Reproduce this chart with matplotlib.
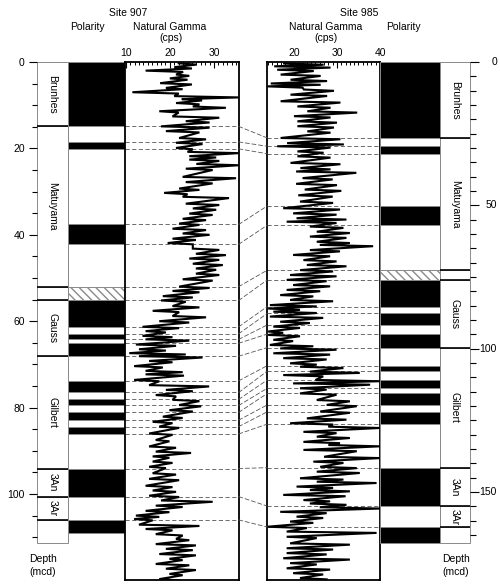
import matplotlib
matplotlib.use("Agg")
import matplotlib.pyplot as plt
import matplotlib.transforms as mtransforms
from matplotlib.patches import Rectangle, ConnectionPatch
import numpy as np

plt.rcParams['font.family'] = ['Liberation Sans', 'DejaVu Sans']
plt.rcParams['font.size'] = 7.5

# ---------------- data ----------------
# Site 907 natural gamma (depth mcd, low / high excursions, cps)
site907_depth = [0.3, 1.2, 2.0, 2.9, 3.8, 4.9, 6.0, 7.0, 7.9, 8.6, 9.5, 10.3, 11.4, 12.6, 13.7,
                 14.9, 16.0, 17.6, 18.7, 19.9, 20.8, 21.8, 22.6, 23.6, 24.7, 26.6, 27.8, 29.3,
                 30.3, 31.2, 32.8, 33.9, 35.1, 36.3, 37.4, 38.6, 39.7, 40.9, 41.9, 43.2, 44.4,
                 45.5, 46.7, 47.8, 49.0, 50.3, 52.0, 53.0, 54.2, 55.2, 56.5, 57.6, 58.8, 60.0,
                 61.3, 62.3, 63.4, 64.2, 65.4, 66.5, 67.4, 68.1, 69.2, 70.4, 71.5, 72.3, 73.6,
                 74.8, 75.9, 77.1, 78.2, 79.4, 80.6, 82.1, 83.3, 84.4, 86.0, 87.5, 89.0, 90.2,
                 91.3, 92.5, 93.7, 95.2, 96.5, 98.1, 99.2, 100.4, 101.5, 102.7, 103.9, 105.0,
                 105.8, 107.1, 108.1, 109.3, 110.4, 111.6, 112.7, 113.9, 115.0, 116.2, 117.3,
                 118.5, 119.7]
site907_low = [22.0, 21.0, 14.5, 21.4, 20.0, 17.8, 19.1, 11.5, 21.0, 22.7, 21.4, 25.2, 17.6, 20.6, 23.6,
               18.0, 19.1, 22.1, 21.4, 21.4, 24.0, 24.4, 24.4, 26.0, 23.6, 22.9, 23.6, 22.1,
               18.7, 22.9, 23.6, 25.2, 24.4, 22.9, 22.1, 20.6, 22.9, 20.6, 19.5, 25.2, 25.9,
               24.4, 25.2, 25.9, 25.9, 22.9, 22.1, 20.6, 18.4, 18.0, 20.6, 16.1, 20.6, 17.6,
               13.8, 14.5, 13.8, 14.5, 12.3, 13.0, 10.8, 13.0, 15.3, 11.9, 14.5, 14.5, 11.9,
               15.3, 19.1, 16.8, 20.6, 22.1, 19.9, 18.4, 16.1, 17.6, 15.3, 16.8, 15.3, 16.8,
               16.1, 16.1, 15.3, 16.1, 15.3, 14.5, 16.1, 15.3, 18.0, 16.8, 14.5, 12.3,
               11.9, 13.0, 14.5, 16.8, 21.4, 16.8, 19.1, 17.6, 19.9, 16.8, 19.1,
               19.9, 17.6]
site907_high = [26.0, 25.0, 23.0, 24.4, 24.0, 25.0, 22.9, 22.0, 35.6, 27.3, 26.7, 32.7, 22.0, 31.2, 29.0,
                29.0, 26.7, 28.2, 27.4, 25.2, 35.6, 30.5, 31.2, 35.6, 29.7, 35.0, 29.7, 26.7,
                24.0, 33.4, 31.2, 30.5, 29.7, 28.2, 26.7, 28.2, 29.0, 25.9, 25.2, 31.2, 32.7,
                31.2, 32.0, 30.5, 31.2, 29.7, 29.0, 26.7, 25.2, 23.6, 26.7, 22.1, 28.2, 24.4,
                22.1, 19.1, 20.6, 24.4, 21.4, 19.1, 23.6, 27.4, 20.6, 18.4, 22.9, 23.2, 17.6,
                28.9, 25.2, 21.4, 26.7, 27.1, 25.2, 22.9, 20.6, 22.1, 20.6, 19.9, 21.4, 24.8,
                19.9, 20.6, 19.1, 21.4, 22.1, 20.6, 21.4, 22.1, 29.7, 22.9, 19.9, 17.6,
                16.1, 26.7, 20.6, 22.9, 24.4, 25.9, 25.2, 25.9, 22.9, 24.4, 25.9,
                22.9, 22.1]

# Site 985 natural gamma
site985_depth = [0.5, 1.5, 2.7, 4.4, 6.2, 7.5, 8.5, 9.6, 11.4, 13.7, 15.5, 17.2, 18.9, 20.7, 22.4,
                 24.2, 26.5, 28.3, 29.4, 31.2, 32.9, 35.2, 37.0, 38.2, 40.5, 42.5, 44.5, 46.5,
                 48.7, 51.0, 52.8, 54.5, 55.7, 57.4, 59.2, 60.9, 62.7, 63.8, 65.6, 67.3, 69.1,
                 70.8, 72.6, 74.3, 76.0, 77.8, 79.5, 81.3, 83.0, 84.8, 86.0, 87.1, 88.8, 90.6,
                 92.3, 94.0, 95.2, 96.9, 98.7, 99.9, 101.6, 103.3, 105.1, 106.3, 108.0, 109.2,
                 110.9, 112.1, 113.8, 115.6, 117.9, 119.6, 121.9, 124.3, 126.0, 127.2, 129.0,
                 130.7, 132.5, 133.6, 135.3, 137.7, 139.4, 141.2, 142.9, 145.2, 146.4, 148.1,
                 149.3, 151.0, 152.8, 154.0, 155.3, 156.9, 158.6, 160.3, 162.1, 163.8, 165.6,
                 167.9, 169.6, 171.3, 173.1, 174.8, 176.6, 178.3, 180.0]
site985_low = [17.7, 15.4, 16.1, 16.9, 19.2, 14.6, 13.8, 22.3, 19.2, 16.9, 20.8, 23.1, 20.0, 20.8, 20.8,
               23.1, 16.9, 18.4, 16.1, 20.8, 20.8, 19.2, 21.5, 20.5, 22.0, 20.5, 22.5, 21.0,
               21.4, 17.5, 19.8, 20.6, 18.3, 23.7, 25.3, 23.7, 25.3, 26.0, 23.7, 19.8, 22.2,
               23.0, 21.4, 19.1, 18.3, 19.8, 18.3, 16.8, 19.1, 14.4, 14.0, 15.2, 14.4, 16.8,
               15.2, 14.0, 14.0, 15.2, 14.4, 16.8, 15.2, 17.5, 19.1, 21.4, 23.7, 17.5,
               25.0, 19.8, 21.4, 21.4, 25.3, 27.6, 26.1, 23.0, 19.1, 28.0, 22.2,
               25.3, 22.2, 28.0, 22.2, 27.0, 24.5, 26.1, 25.3, 21.4, 25.3, 20.6,
               23.7, 17.5, 22.2, 23.7, 26.0, 16.8, 20.6, 19.1, 13.8, 18.3, 18.3,
               19.1, 18.3, 18.3, 17.5, 19.1, 18.3, 19.8, 21.4]
site985_high = [26.9, 28.5, 24.6, 26.2, 27.7, 26.2, 22.0, 29.3, 27.7, 30.8, 28.5, 34.7, 28.5, 30.0, 29.3,
                28.5, 30.8, 31.6, 28.5, 26.9, 28.5, 30.8, 28.5, 34.5, 29.0, 30.0, 31.0, 29.0,
                29.1, 30.7, 29.9, 32.2, 29.9, 31.5, 33.0, 32.2, 33.0, 38.4, 30.7, 28.4, 29.9,
                32.2, 29.1, 29.9, 27.6, 28.4, 26.1, 24.5, 29.1, 25.3, 21.4, 25.3, 26.8, 23.7,
                21.4, 17.5, 21.4, 19.8, 24.5, 29.9, 28.4, 27.6, 25.3, 31.5, 35.3, 26.8,
                40.0, 37.7, 27.6, 29.9, 33.0, 34.6, 33.0, 32.2, 29.1, 40.0, 29.9,
                33.0, 30.7, 40.0, 34.6, 40.0, 31.5, 34.6, 35.3, 31.5, 39.2, 29.1,
                33.0, 32.0, 28.4, 32.2, 40.0, 27.6, 26.8, 24.5, 23.0, 39.2, 25.3,
                33.0, 29.1, 27.6, 33.0, 25.3, 28.4, 26.8, 27.6]

# Polarity boundaries (mcd) and states: N normal (black), R reversed (white), X uncertain (hatched)
pol907_bounds = [0, 14.9, 18.5, 20.1, 37.6, 42.2, 52.0, 55.2, 61.3, 62.9, 64.2, 65.1, 68.1, 73.8,
                 76.5, 78.1, 79.5, 81.1, 82.9, 84.4, 86.1, 94.1, 100.6, 106.0, 109.0]
pol985_bounds = [0, 26.5, 29.4, 32.0, 50.2, 56.9, 72.6, 76.0, 85.3, 87.7, 91.7, 94.9, 99.6, 105.9,
                 107.8, 110.9, 113.8, 115.6, 119.6, 122.0, 126.3, 141.5, 154.9, 162.2, 167.9]
pol_states = ['N', 'R', 'N', 'R', 'N', 'R', 'X', 'N', 'R', 'N', 'R', 'N', 'R', 'N', 'R', 'N', 'R',
              'N', 'R', 'N', 'R', 'N', 'R', 'N']

# Chron zones
zone_names = ['Brunhes', 'Matuyama', '', 'Gauss', 'Gilbert', '3An', '3Ar', '']
zone907_bounds = [0, 14.9, 52.0, 55.2, 68.1, 94.1, 100.6, 106.0, 111.3]
zone985_bounds = [0, 26.5, 72.6, 76.0, 99.6, 141.5, 154.9, 162.2, 167.8]

# Tie points (correlated reversal depths)
tie907 = [14.9, 18.5, 20.1, 37.6, 42.2, 52.0, 55.2, 61.3, 62.9, 64.2, 65.1, 68.1, 73.8, 76.5,
          78.1, 79.5, 81.1, 82.9, 84.4, 86.1, 94.1, 100.6, 106.0]
tie985 = [26.5, 29.4, 32.0, 50.2, 56.9, 72.6, 76.0, 85.3, 87.7, 91.7, 94.9, 99.6, 105.9, 107.8,
          110.9, 113.8, 115.6, 119.6, 122.0, 126.3, 141.5, 154.9, 162.2]

# ---------------- figure ----------------
W, H = 500, 586
fig = plt.figure(figsize=(W / 100, H / 100), dpi=100)

def px_axes(left, top, width, height):
    return fig.add_axes([left / W, 1 - (top + height) / H, width / W, height / H])

TOP = 62
S907 = 4.32   # px per m
S985 = 2.867

def zigzag(depths, lo, hi, step):
    d, v = [], []
    for di, l, h in zip(depths, lo, hi):
        d += [di, di + step]
        v += [l, h]
    return d, v

def draw_polarity(ax, bounds, states):
    for top, bot, st in zip(bounds[:-1], bounds[1:], states):
        fc = 'black' if st == 'N' else 'white'
        hatch = '\\\\\\\\' if st == 'X' else None
        ax.add_patch(Rectangle((0, top), 1, bot - top, facecolor=fc, edgecolor='#8a8a8a',
                               lw=0.7, hatch=hatch, clip_on=False))

def draw_zones(ax, bounds, names):
    for top, bot, name in zip(bounds[:-1], bounds[1:], names):
        ax.add_patch(Rectangle((0, top), 1, bot - top, facecolor='white', edgecolor='#8a8a8a',
                               lw=0.7, clip_on=False))
        if name:
            ax.text(0.5, (top + bot) / 2, name, rotation=-90, ha='center', va='center',
                    fontsize=7.5)
    for b in bounds[1:-1]:
        ax.plot([0, 1], [b, b], color='black', lw=1.2, solid_capstyle='butt', clip_on=False)

def blank(ax):
    ax.set_xlim(0, 1)
    for s in ax.spines.values():
        s.set_visible(False)
    ax.set_xticks([])
    ax.set_yticks([])
    ax.patch.set_alpha(0)

# ---- Site 907 ----
col_h = 481
zL = px_axes(37, TOP, 31, col_h)
blank(zL)
zL.set_ylim(col_h / S907, 0)
draw_zones(zL, zone907_bounds, zone_names)
zL.set_yticks([0, 20, 40, 60, 80, 100])
zL.set_yticks(np.arange(0, 111, 5), minor=True)
zL.tick_params(axis='y', which='major', length=5.8, width=0.8, pad=3, labelsize=7.5)
zL.tick_params(axis='y', which='minor', length=3.5, width=0.8)

pL = px_axes(68, TOP, 57, col_h)
blank(pL)
pL.set_ylim(col_h / S907, 0)
draw_polarity(pL, pol907_bounds, pol_states)

gL = px_axes(125.3, TOP, 113.4, 518)
gL.set_xlim(9.9, 35.6)
gL.set_ylim(518 / S907, 0)
d, v = zigzag(site907_depth, site907_low, site907_high, 0.3)
gL.plot(v, d, color='black', lw=1.5, zorder=3, solid_joinstyle='miter')

# ---- Site 985 ----
gR = px_axes(267.3, TOP, 112.7, 518)
gR.set_xlim(13.8, 40)
gR.set_ylim(518 / S985, 0)
d, v = zigzag(site985_depth, site985_low, site985_high, 0.45)
gR.plot(v, d, color='black', lw=1.5, zorder=3, solid_joinstyle='miter')

pR = px_axes(380, TOP, 60, col_h)
blank(pR)
pR.set_ylim(col_h / S985, 0)
draw_polarity(pR, pol985_bounds, pol_states)

zR = px_axes(440, TOP, 30, col_h)
blank(zR)
zR.set_ylim(col_h / S985, 0)
draw_zones(zR, zone985_bounds, zone_names)
zR.yaxis.set_ticks_position('right')
zR.set_yticks([0, 50, 100, 150])
zR.set_yticks(np.arange(0, 166, 5), minor=True)
zR.tick_params(axis='y', which='major', length=6.5, width=0.8, labelright=False)
zR.tick_params(axis='y', which='minor', length=4.2, width=0.8)
trR = mtransforms.blended_transform_factory(zR.transAxes, zR.transData)
for t in [0, 50, 100, 150]:
    zR.text(1 + (497 - 470) / 30, t, str(t), transform=trR, ha='right', va='center',
            fontsize=7.5)

# gamma axes styling
for ax, lo, hi, majors in [(gL, 10, 35, [10, 20, 30]), (gR, 14, 40, [20, 30, 40])]:
    ax.xaxis.set_ticks_position('top')
    ax.set_xticks(majors)
    ax.set_xticks(np.arange(lo, hi + 1, 1), minor=True)
    ax.tick_params(axis='x', which='major', direction='in', length=4, width=0.8, pad=3,
                   labelsize=7.5)
    ax.tick_params(axis='x', which='minor', direction='in', length=2.5, width=0.7)
    ax.set_yticks([])
    for s in ax.spines.values():
        s.set_linewidth(1.3)

# correlation lines
dash = dict(color='#555555', lw=0.6, linestyle=(0, (5, 3)))
for a, b in zip(tie907, tie985):
    gL.plot([9.9, 35.6], [a, a], zorder=1, **dash)
    gR.plot([13.8, 40], [b, b], zorder=1, **dash)
    con = ConnectionPatch(xyA=(35.6, a), coordsA=gL.transData, xyB=(13.8, b),
                          coordsB=gR.transData, **dash)
    fig.add_artist(con)

# texts
def ftext(x, y, s, **kw):
    fig.text(x / W, 1 - y / H, s, ha='center', va='center', fontsize=7.5, **kw)

ftext(128, 13, 'Site 907')
ftext(87, 27, 'Polarity')
ftext(170, 27, 'Natural Gamma')
ftext(171, 38, '(cps)')
ftext(359, 13, 'Site 985')
ftext(326, 27, 'Natural Gamma')
ftext(326, 38, '(cps)')
ftext(403, 27, 'Polarity')
ftext(43, 559, 'Depth')
ftext(43, 572, '(mcd)')
ftext(456, 559, 'Depth')
ftext(456, 572, '(mcd)')

fig.savefig('out.png', dpi=100)
